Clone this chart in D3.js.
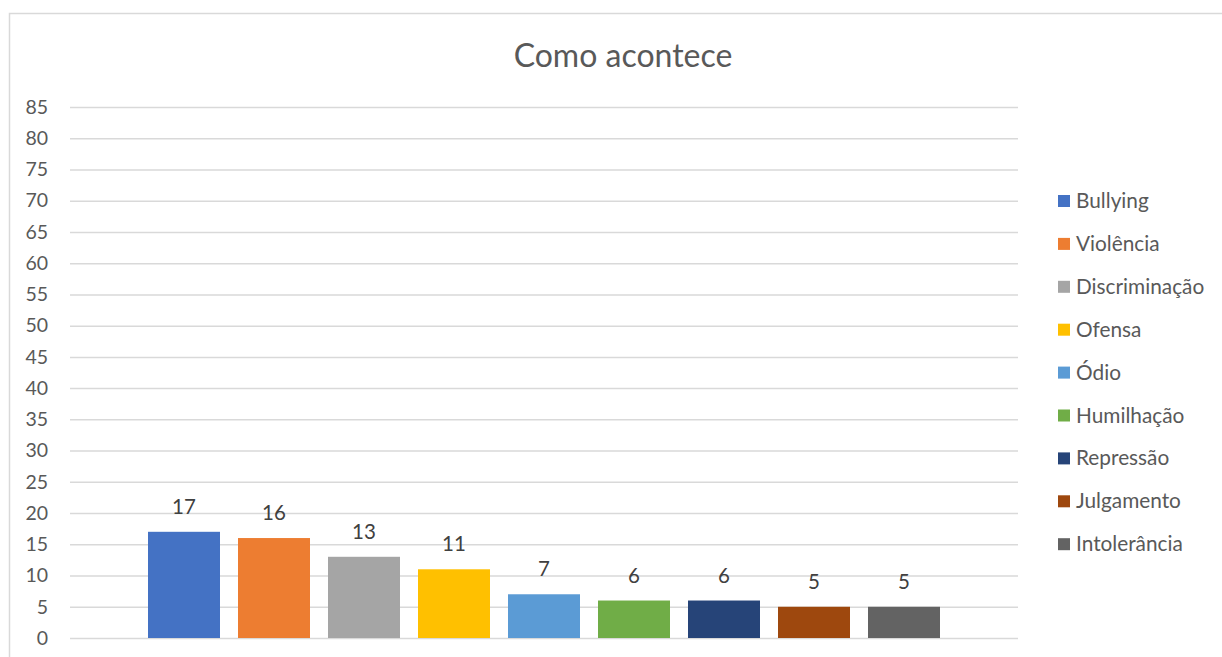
<!DOCTYPE html>
<html><head><meta charset="utf-8">
<script src="https://cdn.jsdelivr.net/npm/d3@7"></script>
<style>body{margin:0;background:#fff;}svg{display:block;font-family:Lato,"Open Sans",sans-serif;}</style>
</head><body>
<svg id="c" width="1222" height="657"></svg>
<script>
const categories = ["Bullying","Violência","Discriminação","Ofensa","Ódio","Humilhação","Repressão","Julgamento","Intolerância"];
const values = [17,16,13,11,7,6,6,5,5];
const colors = ["#4472C4","#ED7D31","#A5A5A5","#FFC000","#5B9BD5","#70AD47","#264478","#9E480E","#636363"];
const yTicks = d3.range(0, 90, 5);
const title = "Como acontece";

const svg = d3.select("#c");
svg.append("rect").attr("x",9.5).attr("y",13.5).attr("width",1240).attr("height",700)
  .attr("fill","#fff").attr("stroke","#d9d9d9").attr("stroke-width",1.5);

const plot = {left:70, right:1018, top:107, bottom:638};
const y = d3.scaleLinear().domain([0,85]).range([plot.bottom, plot.top]);
const mid = (plot.left+plot.right)/2;
const x = d3.scaleBand().domain(categories).range([mid-405, mid+405]).paddingInner(0.2).paddingOuter(0.1);

const yAxis = svg.append("g").attr("transform",`translate(${plot.left},0)`)
  .call(d3.axisLeft(y).tickValues(yTicks).tickSize(-(plot.right-plot.left)).tickPadding(22));
yAxis.select(".domain").remove();
yAxis.selectAll(".tick line").attr("stroke","#d9d9d9").attr("stroke-width",1.5);
yAxis.selectAll(".tick text").attr("fill","#595959").attr("font-size","19.5px").attr("font-family","Lato");

svg.append("g").selectAll("rect").data(values).join("rect")
  .attr("x",(d,i)=>x(categories[i])).attr("width",x.bandwidth())
  .attr("y",d=>y(d)).attr("height",d=>y(0)-y(d))
  .attr("fill",(d,i)=>colors[i]);

svg.append("g").selectAll("text").data(values).join("text")
  .attr("x",(d,i)=>x(categories[i])+x.bandwidth()/2).attr("y",d=>y(d)-18)
  .attr("text-anchor","middle").attr("fill","#404040").attr("font-size","20.5px")
  .text(d=>d);

svg.append("text").attr("x",623).attr("y",67).attr("text-anchor","middle")
  .attr("fill","#595959").attr("font-size","32px").text(title);

const lg = svg.append("g").selectAll("g").data(categories).join("g")
  .attr("transform",(d,i)=>`translate(1058,${201+i*42.9})`);
lg.append("rect").attr("x",0).attr("y",-6).attr("width",12).attr("height",12).attr("fill",(d,i)=>colors[i]);
lg.append("text").attr("x",18).attr("y",7).attr("fill","#595959").attr("font-size","20.8px").text(d=>d);
</script>
</body></html>
